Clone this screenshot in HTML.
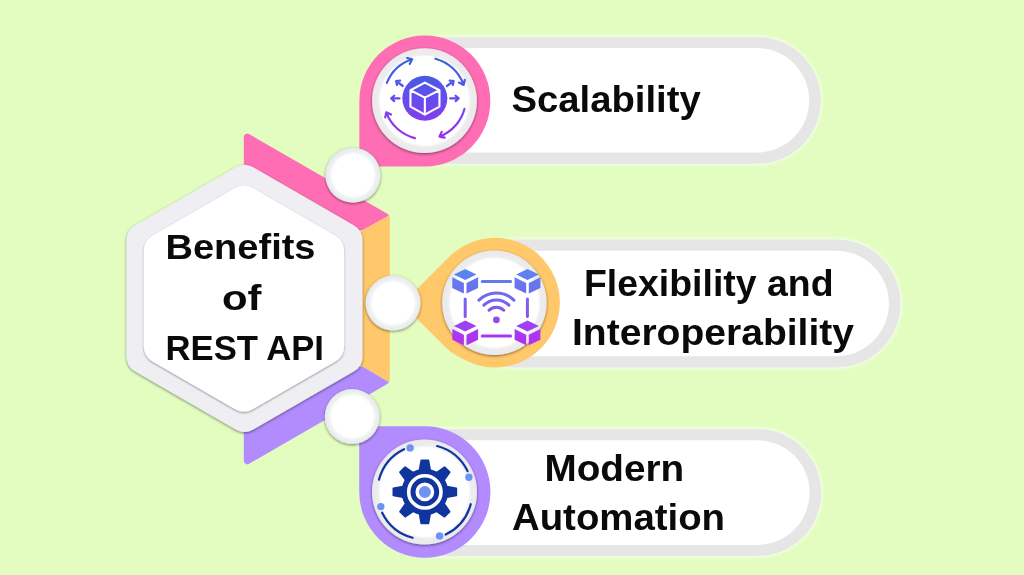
<!DOCTYPE html>
<html><head><meta charset="utf-8"><style>html,body{margin:0;padding:0;background:#e3fdc1}svg{display:block}g.t{opacity:0.999}text{font-family:"Liberation Sans",sans-serif;font-weight:bold;fill:#0a0a0a}</style></head><body>
<svg width="1024" height="575" viewBox="0 0 1024 575">
<defs>
<filter id="sh" x="-20%" y="-20%" width="140%" height="140%"><feGaussianBlur in="SourceAlpha" stdDeviation="1.5"/><feOffset dx="0.4" dy="1"/><feComponentTransfer><feFuncA type="linear" slope="0.5"/></feComponentTransfer><feMerge><feMergeNode/><feMergeNode in="SourceGraphic"/></feMerge></filter>
<filter id="sh2" x="-20%" y="-20%" width="140%" height="140%"><feGaussianBlur in="SourceAlpha" stdDeviation="1.2"/><feOffset dx="0" dy="0.6"/><feComponentTransfer><feFuncA type="linear" slope="0.42"/></feComponentTransfer><feMerge><feMergeNode/><feMergeNode in="SourceGraphic"/></feMerge></filter>
<linearGradient id="g1" gradientUnits="userSpaceOnUse" x1="0" y1="56" x2="0" y2="142"><stop offset="0" stop-color="#2f66d8"/><stop offset="0.5" stop-color="#664cf0"/><stop offset="1" stop-color="#a02cec"/></linearGradient>
<linearGradient id="g2" gradientUnits="userSpaceOnUse" x1="0" y1="268" x2="0" y2="346"><stop offset="0" stop-color="#5888f2"/><stop offset="0.45" stop-color="#7862ea"/><stop offset="0.7" stop-color="#9a44f0"/><stop offset="1" stop-color="#b82cf2"/></linearGradient>
<filter id="glow" x="-5%" y="-10%" width="110%" height="120%"><feGaussianBlur in="SourceAlpha" stdDeviation="2.1"/><feComponentTransfer><feFuncR type="linear" slope="0" intercept="1"/><feFuncG type="linear" slope="0" intercept="1"/><feFuncB type="linear" slope="0" intercept="1"/><feFuncA type="linear" slope="1.1"/></feComponentTransfer><feMerge><feMergeNode/><feMergeNode in="SourceGraphic"/></feMerge></filter>
<radialGradient id="rs"><stop offset="0.74" stop-color="#fff"/><stop offset="0.85" stop-color="#eff1f2"/><stop offset="1" stop-color="#e6e9ea"/></radialGradient>
<radialGradient id="rb"><stop offset="0.84" stop-color="#fff"/><stop offset="0.885" stop-color="#ededf0"/><stop offset="1" stop-color="#eaeaed"/></radialGradient>
</defs>
<rect width="1024" height="575" fill="#e3fdc1"/>
<rect x="380" y="36.9" width="440.8" height="126.9" rx="63.45" fill="#e6e6e6" filter="url(#glow)"/>
<rect x="391.2" y="48.1" width="418" height="104.5" rx="52.25" fill="#fff"/>
<rect x="450" y="239.5" width="450.5" height="127.9" rx="63.95" fill="#e6e6e6" filter="url(#glow)"/>
<rect x="461.2" y="250.7" width="427.7" height="105.5" rx="52.75" fill="#fff"/>
<rect x="380" y="429" width="441.2" height="127.2" rx="63.6" fill="#e6e6e6" filter="url(#glow)"/>
<rect x="391.2" y="440.2" width="418.4" height="104.8" rx="52.4" fill="#fff"/>
<clipPath id="bc"><path d="M243.80 137.07 A3.5 3.5 0 0 1 249.05 134.03 L387.30 213.85 A5 5 0 0 1 389.80 218.18 L389.80 379.62 A5 5 0 0 1 387.30 383.95 L249.05 463.77 A3.5 3.5 0 0 1 243.80 460.73 Z"/></clipPath>
<g clip-path="url(#bc)">
<polygon points="238.80,100.00 394.80,100.00 394.80,212.30 362.50,230.30 238.80,230.30" fill="#ff6eb4"/>
<polygon points="394.80,212.30 394.80,385.50 362.50,366.50 244.55,298.40 362.50,230.30" fill="#ffc86b"/>
<polygon points="238.80,500.00 394.80,500.00 394.80,385.50 362.50,366.50 238.80,366.50" fill="#b28cff"/>
</g>
<polygon points="244.55,182.41 345.00,240.41 345.00,356.39 244.55,414.39 144.10,356.39 144.10,240.41" fill="#eeeef3" stroke="#eeeef3" stroke-width="35" stroke-linejoin="round" filter="url(#sh)"/>
<polygon points="243.95,203.21 326.60,250.93 326.60,346.37 243.95,394.09 161.30,346.37 161.30,250.93" fill="#fff" stroke="#fff" stroke-width="35" stroke-linejoin="round" filter="url(#sh2)"/>
<path d="M359.35 100.9 A65.5 65.5 0 1 1 424.85 166.4 L359.35 166.4 Z" fill="#ff6eb4"/>
<path d="M424.85 426.35 A65.65 65.65 0 1 1 359.2 492 L359.2 426.35 Z" fill="#b28cff"/>
<path d="M402.1 303.9 L449.23 256.78 A64.8 64.8 0 1 1 472.89 363.49 Q454.3 356.1 446 347.8 Z" fill="#ffc86b"/>
<circle cx="424.5" cy="100.7" r="52.4" fill="url(#rb)" filter="url(#sh)"/>
<circle cx="494.4" cy="302.8" r="52.2" fill="url(#rb)" filter="url(#sh)"/>
<circle cx="424.5" cy="492" r="52.5" fill="url(#rb)" filter="url(#sh)"/>
<circle cx="353" cy="175.2" r="27.5" fill="url(#rs)" filter="url(#sh)"/>
<circle cx="393.1" cy="303.1" r="27.5" fill="url(#rs)" filter="url(#sh)"/>
<circle cx="352.25" cy="416.6" r="27.5" fill="url(#rs)" filter="url(#sh)"/>
<g id="ic1">
<circle cx="424.85" cy="98.3" r="22.5" fill="url(#g1)"/>
<path d="M424.85 82.6 L439.45 90.2 L439.45 106.6 L424.85 114.6 L410.45 106.6 L410.45 90.2 Z M410.45 90.2 L424.85 97.6 M439.45 90.2 L424.85 97.6 M424.85 114.6 L424.85 97.6" fill="none" stroke="#fff" stroke-width="2.1" stroke-linejoin="round" stroke-linecap="round"/>
<path d="M386.84 82.94 A41 41 0 0 1 412.18 59.31 M407.13 58.05 L412.18 59.31 M409.74 63.90 L412.18 59.31 M435.46 58.70 A41 41 0 0 1 463.62 84.95 M464.79 79.88 L463.62 84.95 M458.98 82.59 L463.62 84.95 M464.45 108.91 A41 41 0 0 1 439.54 136.58 M444.65 137.57 L439.54 136.58 M441.74 131.86 L439.54 136.58 M414.93 138.08 A41 41 0 0 1 386.32 112.32 M385.24 117.41 L386.32 112.32 M391.00 114.60 L386.32 112.32" fill="none" stroke="url(#g1)" stroke-width="2.2" stroke-linecap="round" stroke-linejoin="round"/>
<path d="M399.50 98.40 L391.20 98.40 M394.17 101.08 L391.20 98.40 M394.17 95.72 L391.20 98.40 M402.80 86.00 L396.20 81.00 M396.95 84.93 L396.20 81.00 M400.19 80.66 L396.20 81.00 M450.20 98.40 L458.60 98.40 M455.63 95.72 L458.60 98.40 M455.63 101.08 L458.60 98.40 M446.90 86.00 L453.60 81.00 M449.62 80.63 L453.60 81.00 M452.82 84.92 L453.60 81.00" fill="none" stroke="url(#g1)" stroke-width="2.2" stroke-linecap="round" stroke-linejoin="round"/>
</g>
<g id="ic2" fill="url(#g2)" stroke="none">
<polygon points="465.20,268.90 476.50,274.40 465.20,279.90 453.90,274.40"/>
<polygon points="452.30,277.20 463.90,283.00 463.90,293.50 452.30,288.00"/>
<polygon points="478.10,277.20 466.50,283.00 466.50,293.50 478.10,288.00"/>
<polygon points="527.50,268.90 538.80,274.40 527.50,279.90 516.20,274.40"/>
<polygon points="514.60,277.20 526.20,283.00 526.20,293.50 514.60,288.00"/>
<polygon points="540.40,277.20 528.80,283.00 528.80,293.50 540.40,288.00"/>
<polygon points="465.20,320.60 476.50,326.10 465.20,331.60 453.90,326.10"/>
<polygon points="452.30,328.90 463.90,334.70 463.90,345.20 452.30,339.70"/>
<polygon points="478.10,328.90 466.50,334.70 466.50,345.20 478.10,339.70"/>
<polygon points="527.50,320.60 538.80,326.10 527.50,331.60 516.20,326.10"/>
<polygon points="514.60,328.90 526.20,334.70 526.20,345.20 514.60,339.70"/>
<polygon points="540.40,328.90 528.80,334.70 528.80,345.20 540.40,339.70"/>
</g>
<g fill="none" stroke="url(#g2)" stroke-width="3" stroke-linecap="round">
<path d="M482.2 281.6H510.6 M482.2 336H510.6 M465.2 299V316.4 M527.4 299V316.4"/>
<path d="M489.05 310.25 A10.4 10.4 0 0 1 503.75 310.25 M483.88 305.08 A17.7 17.7 0 0 1 508.92 305.08 M478.93 300.13 A24.7 24.7 0 0 1 513.87 300.13 " stroke-width="3"/>
</g>
<circle cx="496.4" cy="319.8" r="3.4" fill="url(#g2)"/>
<g id="ic3">
<path d="M446.82 486.60 L456.34 488.30 L456.34 495.50 L446.82 497.20 L444.13 503.69 L449.67 511.62 L444.57 516.72 L436.64 511.18 L430.15 513.87 L428.45 523.39 L421.25 523.39 L419.55 513.87 L413.06 511.18 L405.13 516.72 L400.03 511.62 L405.57 503.69 L402.88 497.20 L393.36 495.50 L393.36 488.30 L402.88 486.60 L405.57 480.11 L400.03 472.18 L405.13 467.08 L413.06 472.62 L419.55 469.93 L421.25 460.41 L428.45 460.41 L430.15 469.93 L436.64 472.62 L444.57 467.08 L449.67 472.18 L444.13 480.11Z" fill="#10359f" stroke="#10359f" stroke-width="1.7" stroke-linejoin="round"/>
<circle cx="424.85" cy="491.9" r="23" fill="#10359f"/>
<circle cx="424.85" cy="491.9" r="16.15" fill="none" stroke="#fff" stroke-width="3.6"/>
<circle cx="424.85" cy="491.9" r="7.7" fill="#6f92f5" stroke="#fff" stroke-width="3.4"/>
<path d="M470.73 504.19 A47.5 47.5 0 0 1 445.67 534.59 M412.56 537.78 A47.5 47.5 0 0 1 382.16 512.72 M378.97 479.61 A47.5 47.5 0 0 1 404.03 449.21 M437.14 446.02 A47.5 47.5 0 0 1 467.54 471.08 " fill="none" stroke="#10359f" stroke-width="2.2" stroke-linecap="round"/>
<circle cx="439.57" cy="535.90" r="3.7" fill="#6f92f5"/>
<circle cx="380.85" cy="506.62" r="3.7" fill="#6f92f5"/>
<circle cx="410.13" cy="447.90" r="3.7" fill="#6f92f5"/>
<circle cx="468.85" cy="477.18" r="3.7" fill="#6f92f5"/>
</g>
<g class="t">
<text x="511.5" y="111.5" font-size="36" textLength="189.2" lengthAdjust="spacingAndGlyphs">Scalability</text>
<text x="584" y="295.7" font-size="36" textLength="249.5" lengthAdjust="spacingAndGlyphs">Flexibility and</text>
<text x="572" y="345" font-size="36" textLength="282" lengthAdjust="spacingAndGlyphs">Interoperability</text>
<text x="544.5" y="480.5" font-size="36" textLength="139.7" lengthAdjust="spacingAndGlyphs">Modern</text>
<text x="512" y="530.4" font-size="36" textLength="213" lengthAdjust="spacingAndGlyphs">Automation</text>
<text x="165.5" y="258.5" font-size="35" textLength="150" lengthAdjust="spacingAndGlyphs">Benefits</text>
<text x="222" y="309.5" font-size="35" textLength="39.5" lengthAdjust="spacingAndGlyphs">of</text>
<text x="165.5" y="359.6" font-size="35" textLength="158.5" lengthAdjust="spacingAndGlyphs">REST API</text>
</g>
</svg></body></html>
